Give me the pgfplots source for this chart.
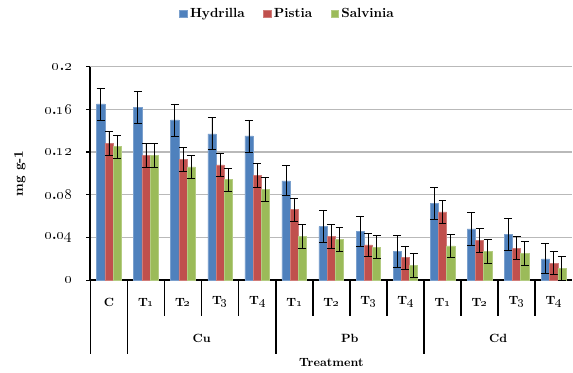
\documentclass[border=0pt]{standalone}
\usepackage{pgfplots}
\pgfplotsset{compat=1.18}
\usepackage{pgfplotstable}

\definecolor{hyd}{RGB}{79,129,189}
\definecolor{pis}{RGB}{192,80,77}
\definecolor{sal}{RGB}{155,187,89}

\newcommand{\os}[1]{\oldstylenums{#1}}

% metal uptake (mg g-1), mean and error for each plant
\pgfplotstableread{
x  h     he    p     pe    s     se
0  0.165 0.015 0.128 0.011 0.125 0.011
1  0.162 0.015 0.117 0.011 0.117 0.011
2  0.150 0.015 0.113 0.011 0.106 0.011
3  0.137 0.015 0.108 0.011 0.094 0.011
4  0.135 0.015 0.098 0.011 0.085 0.011
5  0.093 0.014 0.066 0.011 0.041 0.011
6  0.050 0.015 0.041 0.011 0.038 0.011
7  0.046 0.014 0.033 0.011 0.031 0.011
8  0.027 0.015 0.021 0.011 0.014 0.011
9  0.072 0.015 0.064 0.011 0.032 0.011
10 0.048 0.015 0.037 0.011 0.027 0.011
11 0.043 0.015 0.030 0.011 0.025 0.011
12 0.020 0.014 0.016 0.011 0.011 0.011
}\datatable

\begin{document}
\begin{tikzpicture}
\begin{axis}[
  scale only axis, width=363.75pt, height=161.25pt,
  xmin=-0.5, xmax=12.5, ymin=0, ymax=0.2,
  clip=false,
  ybar=0pt, bar width=6.2pt,
  axis x line*=bottom, axis y line*=left,
  x axis line style={line width=1.2pt},
  y axis line style={line width=1.6pt},
  xtick=\empty,
  ytick={0,0.04,0.08,0.12,0.16,0.2},
  yticklabels={\os{0},\os{0}.\os{04},\os{0}.\os{08},\os{0}.\os{12},\os{0}.\os{16},\os{0}.\os{2}},
  yticklabel style={font=\bfseries\large, xshift=-7pt},
  tick align=outside, major tick length=3pt,
  ytick style={black, line width=0.8pt},
  ymajorgrids, grid style={gray!55, line width=0.8pt},
  ylabel={mg g-1},
  ylabel style={at={(axis description cs:-0.1464,0.5)}, anchor=center, font=\bfseries\normalsize},
  legend style={at={(axis description cs:0.41,1)}, anchor=center, yshift=39.75pt,
    draw=none, font=\bfseries\normalsize, legend columns=3,
    /tikz/every even column/.append style={column sep=12pt}},
  legend image code/.code={\fill[#1] (0pt,-2.8pt) rectangle (5.6pt,2.8pt);},
  error bars/error bar style={black, line width=0.6pt},
  error bars/error mark options={rotate=90, black, mark size=3pt, line width=0.6pt},
]
\addplot[fill=hyd, draw=hyd!75!white, line width=0.4pt,
  error bars/.cd, y dir=both, y explicit] table[x=x, y=h, y error=he]{\datatable};
\addlegendentry{Hydrilla}
\addplot[fill=pis, draw=pis!75!white, line width=0.4pt,
  error bars/.cd, y dir=both, y explicit] table[x=x, y=p, y error=pe]{\datatable};
\addlegendentry{Pistia}
\addplot[fill=sal, draw=sal!75!white, line width=0.4pt,
  error bars/.cd, y dir=both, y explicit] table[x=x, y=s, y error=se]{\datatable};
\addlegendentry{Salvinia}

% category separators below the axis
\draw[line width=1.2pt] (axis cs:-0.5,0) -- ([yshift=-55.5pt]axis cs:-0.5,0);
\draw[line width=1.2pt] (axis cs:0.5,0) -- ([yshift=-55.5pt]axis cs:0.5,0);
\draw[line width=1.2pt] (axis cs:4.5,0) -- ([yshift=-55.5pt]axis cs:4.5,0);
\draw[line width=1.2pt] (axis cs:8.5,0) -- ([yshift=-55.5pt]axis cs:8.5,0);
\draw[line width=1.2pt] (axis cs:1.5,0) -- ([yshift=-27pt]axis cs:1.5,0);
\draw[line width=1.2pt] (axis cs:2.5,0) -- ([yshift=-27pt]axis cs:2.5,0);
\draw[line width=1.2pt] (axis cs:3.5,0) -- ([yshift=-27pt]axis cs:3.5,0);
\draw[line width=1.2pt] (axis cs:5.5,0) -- ([yshift=-27pt]axis cs:5.5,0);
\draw[line width=1.2pt] (axis cs:6.5,0) -- ([yshift=-27pt]axis cs:6.5,0);
\draw[line width=1.2pt] (axis cs:7.5,0) -- ([yshift=-27pt]axis cs:7.5,0);
\draw[line width=1.2pt] (axis cs:9.5,0) -- ([yshift=-27pt]axis cs:9.5,0);
\draw[line width=1.2pt] (axis cs:10.5,0) -- ([yshift=-27pt]axis cs:10.5,0);
\draw[line width=1.2pt] (axis cs:11.5,0) -- ([yshift=-27pt]axis cs:11.5,0);

% treatment labels, metal groups and the axis title
\begin{scope}[every node/.style={font=\bfseries\small, anchor=center}]
\node at ([yshift=-16.5pt]axis cs:0,0)  {C};
\node at ([yshift=-16.5pt]axis cs:1,0)  {T\os{1}};
\node at ([yshift=-16.5pt]axis cs:2,0)  {T\os{2}};
\node at ([yshift=-16.5pt]axis cs:3,0)  {T\os{3}};
\node at ([yshift=-16.5pt]axis cs:4,0)  {T\os{4}};
\node at ([yshift=-16.5pt]axis cs:5,0)  {T\os{1}};
\node at ([yshift=-16.5pt]axis cs:6,0)  {T\os{2}};
\node at ([yshift=-16.5pt]axis cs:7,0)  {T\os{3}};
\node at ([yshift=-16.5pt]axis cs:8,0)  {T\os{4}};
\node at ([yshift=-16.5pt]axis cs:9,0)  {T\os{1}};
\node at ([yshift=-16.5pt]axis cs:10,0) {T\os{2}};
\node at ([yshift=-16.5pt]axis cs:11,0) {T\os{3}};
\node at ([yshift=-16.5pt]axis cs:12,0) {T\os{4}};
\node at ([yshift=-44.25pt]axis cs:2.5,0)  {Cu};
\node at ([yshift=-44.25pt]axis cs:6.5,0)  {Pb};
\node at ([yshift=-44.25pt]axis cs:10.5,0) {Cd};
\node at ([yshift=-62.25pt]axis cs:6,0)    {Treatment};
\end{scope}
\end{axis}
\path[use as bounding box] (-68.25pt,-69.75pt) rectangle (361.5pt,211.5pt);
\end{tikzpicture}
\end{document}
